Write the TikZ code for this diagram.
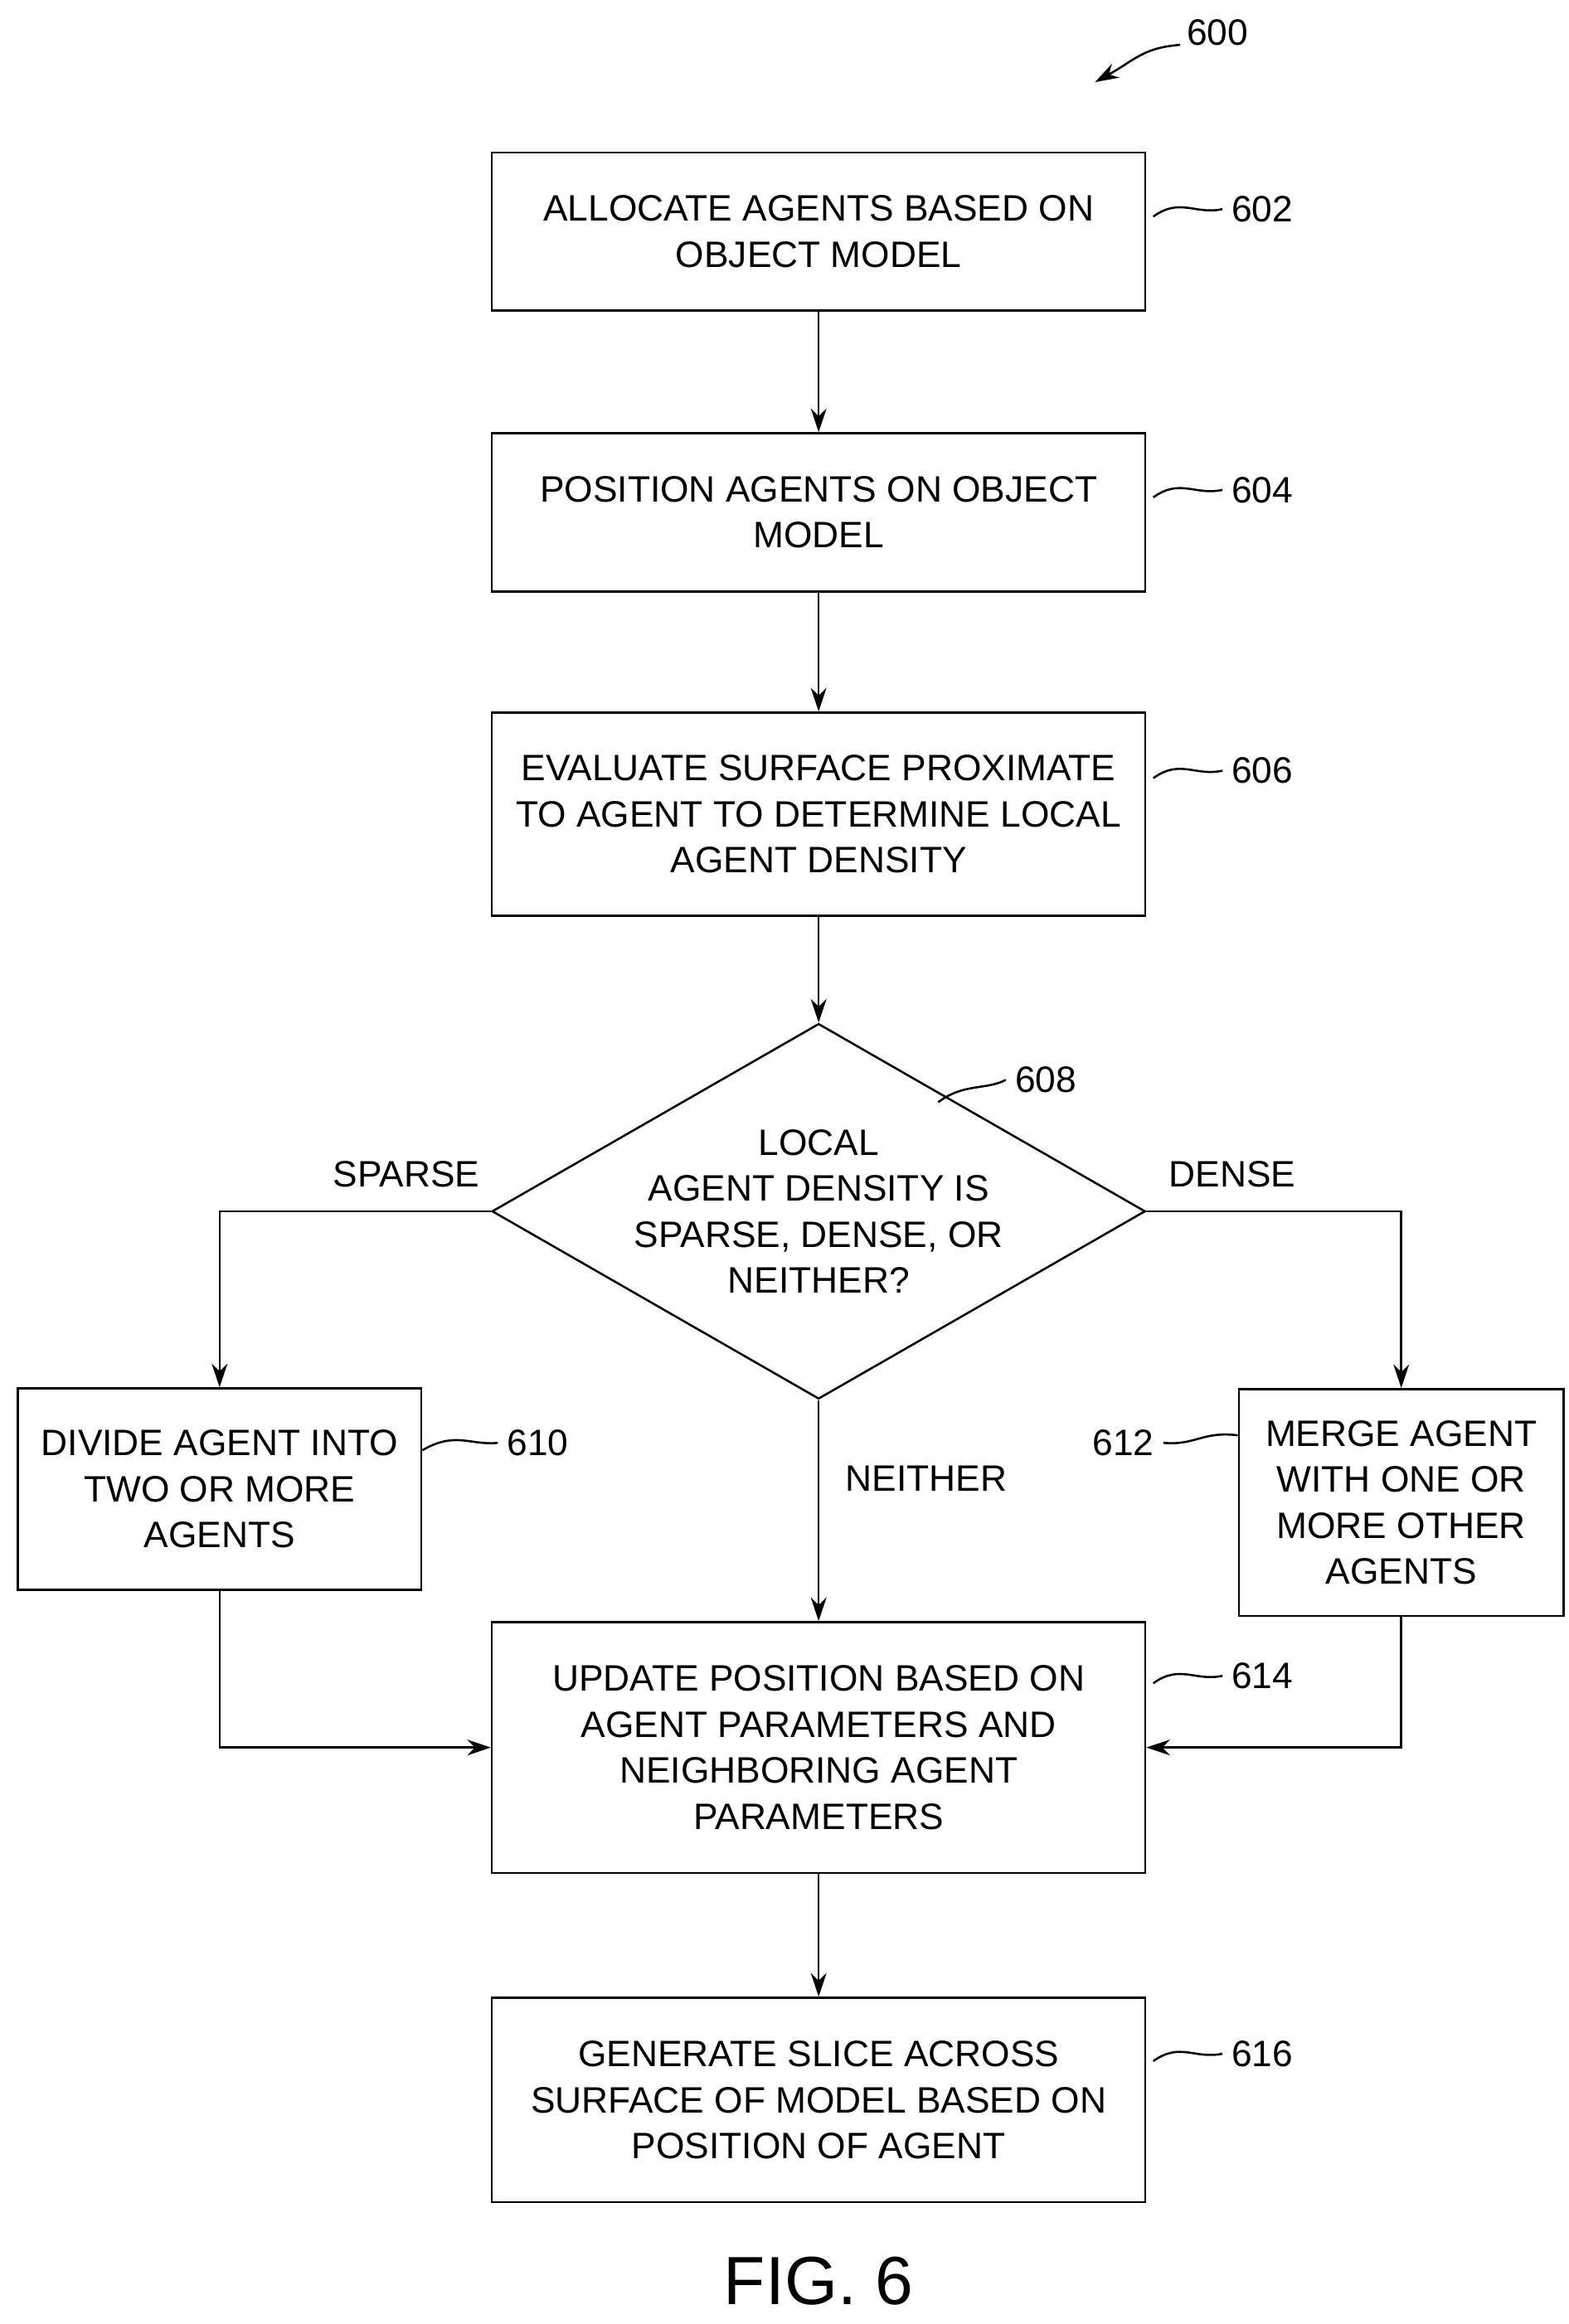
\documentclass[tikz,border=0pt]{standalone}
\usepackage{fontspec}
\setmainfont{Liberation Sans}
\usetikzlibrary{shapes.geometric, arrows.meta}
\begin{document}
\begin{tikzpicture}[x=0.02cm, y=-0.02cm,
  box/.style={draw, thick, align=center, inner sep=0pt, font=\fontsize{14}{17.5}\selectfont},
  lbl/.style={font=\fontsize{14}{17}\selectfont},
  arr/.style={thick, -{Stealth[length=9pt, width=6pt]}}]
\useasboundingbox (0,0) rectangle (1050,1556);
\node[lbl] at (815,22) {600};
\draw[thick, -{Stealth[length=9pt, width=6pt]}] (790,30) .. controls (765,32) and (760,40) .. (733,55);
% boxes
\node[box, minimum width=8.75cm, minimum height=2.12cm] (b602) at (548,155) {ALLOCATE AGENTS BASED ON\\OBJECT MODEL};
\node[box, minimum width=8.75cm, minimum height=2.12cm] (b604) at (548,343) {POSITION AGENTS ON OBJECT\\MODEL};
\node[box, minimum width=8.75cm, minimum height=2.72cm] (b606) at (548,545) {EVALUATE SURFACE PROXIMATE\\TO AGENT TO DETERMINE LOCAL\\AGENT DENSITY};
\node[box, diamond, aspect=1.74, minimum width=7.75cm, minimum height=4.45cm] (d608) at (548,811) {LOCAL\\AGENT DENSITY IS\\SPARSE, DENSE, OR\\NEITHER?};
\node[box, minimum width=5.4cm, minimum height=2.7cm] (b610) at (147,997) {DIVIDE AGENT INTO\\TWO OR MORE\\AGENTS};
\node[box, minimum width=4.35cm, minimum height=3.04cm] (b612) at (938,1006) {MERGE AGENT\\WITH ONE OR\\MORE OTHER\\AGENTS};
\node[box, minimum width=8.75cm, minimum height=3.36cm] (b614) at (548,1170) {UPDATE POSITION BASED ON\\AGENT PARAMETERS AND\\NEIGHBORING AGENT\\PARAMETERS};
\node[box, minimum width=8.75cm, minimum height=2.74cm] (b616) at (548,1406) {GENERATE SLICE ACROSS\\SURFACE OF MODEL BASED ON\\POSITION OF AGENT};
\node[font=\fontsize{26}{30}\selectfont] at (548,1527) {FIG. 6};
% connectors
\draw[arr] (b602) -- (b604);
\draw[arr] (b604) -- (b606);
\draw[arr] (b606) -- (d608);
\draw[arr] (d608.west) -| (b610.north);
\draw[arr] (d608.east) -| (b612.north);
\draw[arr] (d608.south) -- (b614.north);
\draw[arr] (b610.south) |- (b614.west);
\draw[arr] (b612.south) |- (b614.east);
\draw[arr] (b614) -- (b616);
\node[lbl] at (272,786) {SPARSE};
\node[lbl] at (825,786) {DENSE};
\node[lbl] at (620,990) {NEITHER};
% reference numerals
\foreach \nm/\yy in {602/140, 604/328, 606/516, 614/1122, 616/1375}{
  \node[lbl] (r\nm) at (845,\yy) {\nm};
  \draw[thick] (772,\yy+5) .. controls (790,\yy-8) and (800,\yy+4) .. (r\nm.west);
}
\node[lbl] (r610) at (360,966) {610};
\draw[thick] (b610.east |- 0,971) .. controls (305,958) and (315,968) .. (r610.west);
\node[lbl] (r612) at (752,966) {612};
\draw[thick] (r612.east) .. controls (800,968) and (805,958) .. (b612.west |- 0,961);
\node[lbl] (r608) at (700,723) {608};
\draw[thick] (628,738) .. controls (645,725) and (660,730) .. (r608.west);
\end{tikzpicture}
\end{document}
